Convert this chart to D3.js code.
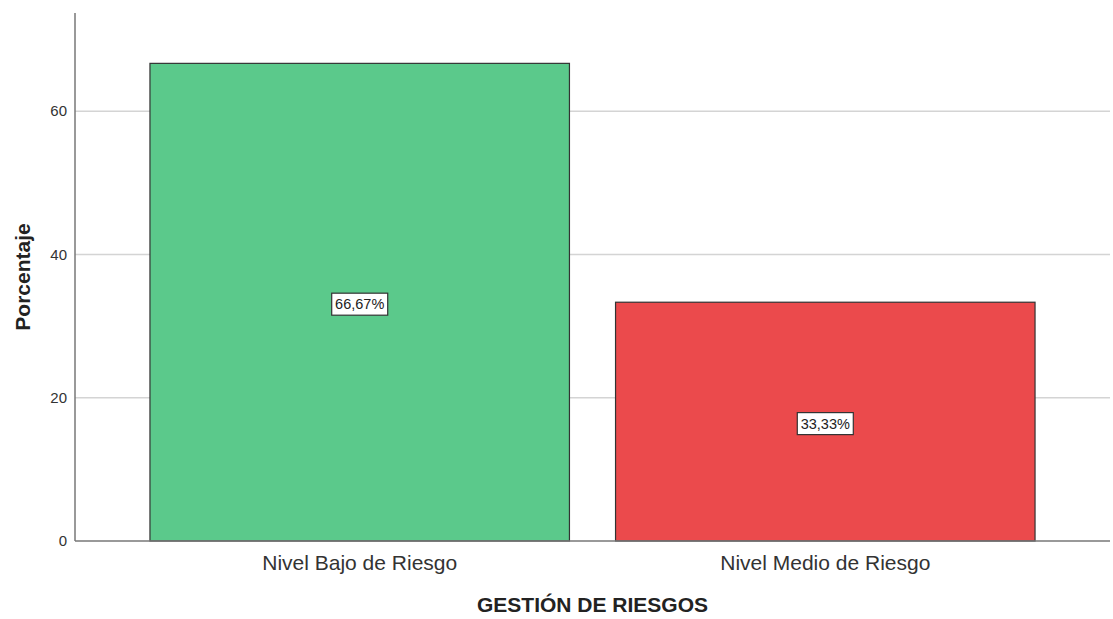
<!DOCTYPE html>
<html>
<head>
<meta charset="utf-8">
<script src="https://cdn.jsdelivr.net/npm/d3@7"></script>
<style>
  body { margin: 0; background: #fff; }
  text { font-family: "Liberation Sans", Arial, sans-serif; }
</style>
</head>
<body>
<div id="chart"></div>
<script>
// data
var categories = ["Nivel Bajo de Riesgo", "Nivel Medio de Riesgo"];
var values = [66.67, 33.33];
var labels = ["66,67%", "33,33%"];
var barColors = ["#5bc98b", "#eb4a4c"];
var yTicks = [0, 20, 40, 60];

var W = 1113, H = 619;
var margin = {top: 13, right: 3, bottom: 78, left: 75};

var svg = d3.select("#chart")
  .append("svg")
    .attr("width", W)
    .attr("height", H);

var x = d3.scaleBand()
  .domain(categories)
  .range([margin.left, W - margin.right])
  .paddingInner(0.099)
  .paddingOuter(0.161);

var y = d3.scaleLinear()
  .domain([0, 73.7])
  .range([H - margin.bottom, margin.top]);

// gridlines
svg.append("g")
  .selectAll("line")
  .data(yTicks.filter(function(d){ return d > 0; }))
  .enter()
  .append("line")
    .attr("x1", margin.left)
    .attr("x2", W - margin.right)
    .attr("y1", function(d){ return y(d); })
    .attr("y2", function(d){ return y(d); })
    .style("stroke", "#d4d4d4")
    .style("stroke-width", 1.5);

// bars
svg.append("g")
  .selectAll("rect")
  .data(values)
  .enter()
  .append("rect")
    .attr("x", function(d, i){ return x(categories[i]); })
    .attr("y", function(d){ return y(d); })
    .attr("width", x.bandwidth())
    .attr("height", function(d){ return y(0) - y(d); })
    .style("fill", function(d, i){ return barColors[i]; })
    .style("stroke", "#333")
    .style("stroke-width", 1.2);

// y axis
var yAxis = svg.append("g")
  .attr("transform", "translate(" + margin.left + ",0)")
  .call(d3.axisLeft(y).tickValues(yTicks).tickSize(0).tickPadding(8));
yAxis.select(".domain").remove();
yAxis.selectAll("text").style("font-size", "15px").style("fill", "#333")
  .style("font-family", "'Liberation Sans', Arial, sans-serif");

svg.append("line")
  .attr("x1", margin.left).attr("x2", margin.left)
  .attr("y1", margin.top).attr("y2", y(0))
  .style("stroke", "#777").style("stroke-width", 1.5);
svg.append("line")
  .attr("x1", margin.left).attr("x2", W - margin.right)
  .attr("y1", y(0)).attr("y2", y(0))
  .style("stroke", "#777").style("stroke-width", 1.5);

// x axis labels
var xAxis = svg.append("g")
  .attr("transform", "translate(0," + y(0) + ")")
  .call(d3.axisBottom(x).tickSize(0).tickPadding(14));
xAxis.select(".domain").remove();
xAxis.selectAll("text").style("font-size", "21px").style("fill", "#333")
  .style("font-family", "'Liberation Sans', Arial, sans-serif");

// value labels in boxes
var lab = svg.append("g")
  .selectAll("g")
  .data(values)
  .enter()
  .append("g")
    .attr("transform", function(d, i){
      return "translate(" + (x(categories[i]) + x.bandwidth() / 2) + "," + ((y(d) + y(0)) / 2 + 2) + ")";
    });
lab.append("rect")
  .attr("x", -28).attr("y", -11)
  .attr("width", 56).attr("height", 22)
  .style("fill", "#fff").style("stroke", "#333").style("stroke-width", 1.2);
lab.append("text")
  .attr("text-anchor", "middle")
  .attr("dy", "0.36em")
  .style("font-size", "14.5px")
  .style("fill", "#222")
  .text(function(d, i){ return labels[i]; });

// axis titles
svg.append("text")
  .attr("x", (margin.left + W - margin.right) / 2)
  .attr("y", 612)
  .attr("text-anchor", "middle")
  .style("font-size", "21px")
  .style("font-weight", "bold")
  .style("fill", "#222")
  .text("GESTIÓN DE RIESGOS");

svg.append("text")
  .attr("transform", "translate(30," + ((margin.top + y(0)) / 2) + ") rotate(-90)")
  .attr("text-anchor", "middle")
  .style("font-size", "21px")
  .style("font-weight", "bold")
  .style("fill", "#222")
  .text("Porcentaje");
</script>
</body>
</html>
